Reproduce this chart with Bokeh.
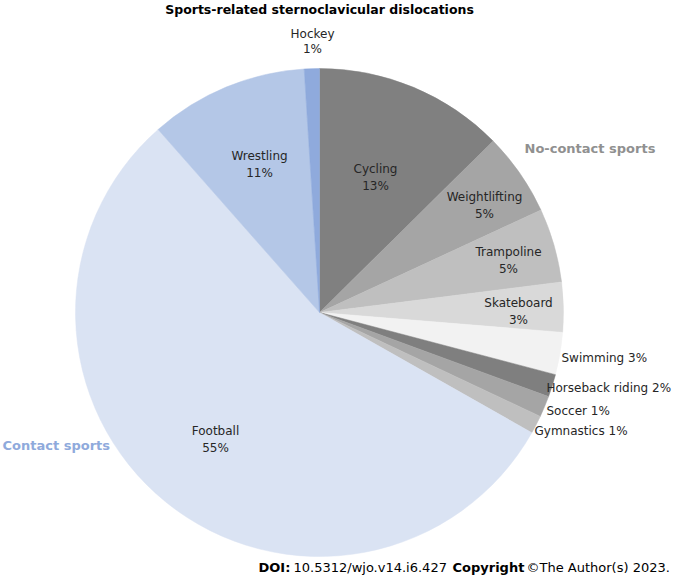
from bokeh.plotting import figure
from bokeh.models import Range1d, ColumnDataSource
from bokeh.core.properties import value
from bokeh.embed import file_html
from bokeh.resources import INLINE
import numpy as np

# ---- data (clockwise from 12 o'clock) ----
sports = ["Cycling", "Weightlifting", "Trampoline", "Skateboard", "Swimming",
          "Horseback riding", "Soccer", "Gymnastics", "Football", "Wrestling", "Hockey"]
shares = [12.6, 5.5, 4.9, 3.3, 2.8, 1.5, 1.4, 1.2, 55.3, 10.5, 1.0]
pct_labels = ["13%", "5%", "5%", "3%", "3%", "2%", "1%", "1%", "55%", "11%", "1%"]
colors = ["#808080", "#a5a5a5", "#bfbfbf", "#d9d9d9", "#f2f2f2",
          "#7f7f7f", "#a5a5a5", "#bfbfbf", "#dae3f3", "#b4c7e7", "#8faadc"]

W, H = 677, 583
FONT = "DejaVu Sans"

def X(xi):
    return xi

def Y(yi):
    return H - yi

p = figure(width=W, height=H, output_backend="svg", toolbar_location=None,
           x_range=Range1d(0, W), y_range=Range1d(0, H), min_border=0,
           outline_line_color=None)
p.axis.visible = False
p.grid.visible = False
p.background_fill_color = "white"

# pie
cx, cy, r = X(319), Y(312), 244
vals = np.array(shares, dtype=float)
cum = np.concatenate([[0], np.cumsum(vals)]) / vals.sum() * 2 * np.pi
cw_start = cum[:-1]
cw_end = cum[1:]
start = np.pi / 2 - cw_end
end = np.pi / 2 - cw_start
src = ColumnDataSource(dict(start=start, end=end, color=colors))
p.wedge(x=cx, y=cy, radius=r, start_angle="start", end_angle="end",
        fill_color="color", line_color="color", line_width=0.5, source=src)

label_color = "#262626"
fs = "12px"

def txt(xs, ys, texts, align="center", size=fs, color=label_color, style="normal"):
    p.text(x=[X(v) for v in xs], y=[Y(v) for v in ys], text=texts,
           text_font=value(FONT), text_font_size=size, text_color=color,
           text_align=align, text_baseline="middle", text_font_style=style)

# two-line inside labels
two_line = {
    "Hockey": (312, 33, 48),
    "Cycling": (375, 168, 185),
    "Weightlifting": (484, 196, 213),
    "Trampoline": (508, 251, 268),
    "Skateboard": (518, 302, 319),
    "Football": (215, 430, 447),
    "Wrestling": (259, 155, 172),
}
for name, (xc, y1, y2) in two_line.items():
    i = sports.index(name)
    txt([xc, xc], [y1, y2], [name, pct_labels[i]])

# one-line outside labels
one_line = {
    "Swimming": (561, 357),
    "Horseback riding": (546, 387),
    "Soccer": (546, 410),
    "Gymnastics": (534, 430),
}
for name, (xl, yc) in one_line.items():
    i = sports.index(name)
    txt([xl], [yc], [name + " " + pct_labels[i]], align="left")

# title and group labels
txt([319], [9], ["Sports-related sternoclavicular dislocations"], style="bold",
    color="#000000", size="12.5px")
txt([2], [445], ["Contact sports"], align="left", style="bold", color="#8faadc", size="13px")
txt([524], [148], ["No-contact sports"], align="left", style="bold", color="#909090", size="13px")

# footer
txt([258], [567], ["DOI:"], align="left", style="bold", color="#000000", size="13px")
txt([293], [567], ["10.5312/wjo.v14.i6.427"], align="left", color="#000000", size="13px")
txt([452], [567], ["Copyright"], align="left", style="bold", color="#000000", size="13px")
txt([526], [567], ["\u00a9The Author(s) 2023."], align="left", color="#000000", size="13px")

open("out.html", "w").write(file_html(p, INLINE))
